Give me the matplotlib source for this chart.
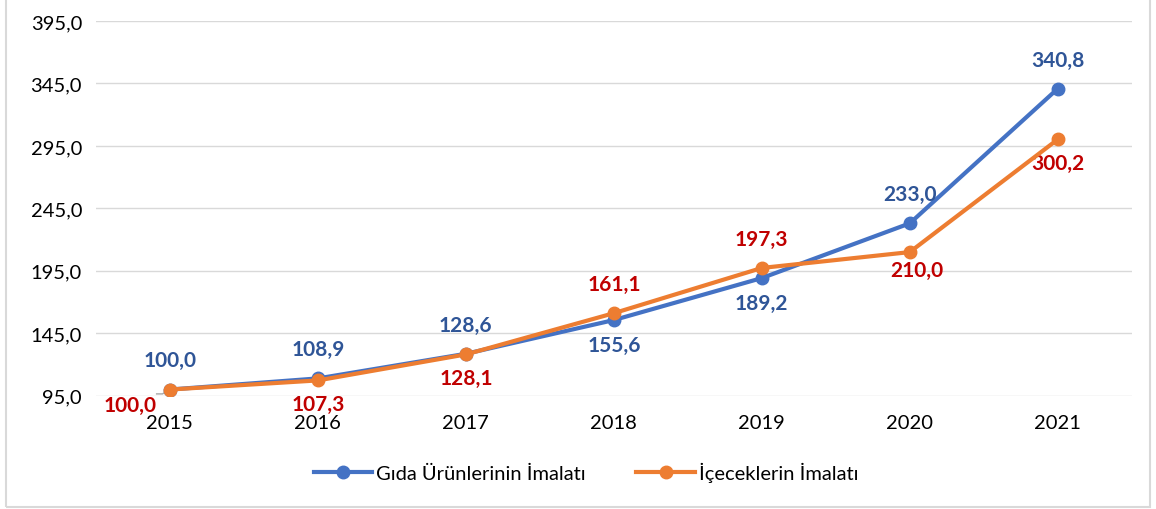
import matplotlib.pyplot as plt
import matplotlib.patches as patches

plt.rcParams['font.family'] = ['Lato', 'DejaVu Sans']

# Daten
years = ['2015', '2016', '2017', '2018', '2019', '2020', '2021']
gida = [100.0, 108.9, 128.6, 155.6, 189.2, 233.0, 340.8]
icecek = [100.0, 107.3, 128.1, 161.1, 197.3, 210.0, 300.2]
yticks = [95, 145, 195, 245, 295, 345, 395]

# Label-Versatz in Punkten (positiv = oben)
gida_off = [21, 21, 21, -18, -18, 21, 21]
icecek_off = [0, -17, -17, 21, 21, -13, -17]


def tr(v):
    return f'{v:.1f}'.replace('.', ',')


fig = plt.figure(figsize=(11.56, 5.10), dpi=100)
ax = fig.add_axes([0.083, 0.222, 0.896, 0.735])

x = list(range(len(years)))
blue = '#4472C4'
orange = '#ED7D31'
ax.plot(x, gida, color=blue, lw=3, marker='o', ms=9, label='Gıda Ürünlerinin İmalatı', zorder=3)
ax.plot(x, icecek, color=orange, lw=3, marker='o', ms=9, label='İçeceklerin İmalatı', zorder=4)

for i in x:
    ax.annotate(tr(gida[i]), (i, gida[i]), xytext=(0, gida_off[i]), textcoords='offset points',
                ha='center', va='center', color='#2F5597', fontsize=15, fontweight='bold')
    if icecek_off[i] == 0:
        # 2015 Label links mit Fuehrungslinie
        ax.annotate(tr(icecek[i]), (i, icecek[i]), xytext=(-29, -11), textcoords='offset points',
                    ha='center', va='center', color='#C00000', fontsize=15, fontweight='bold')
        ax.plot([i - 0.09, i - 0.05, i - 0.02], [96.5, 96.5, 99], color='#A6A6A6', lw=1, zorder=2)
    else:
        dx = 5 if i == 5 else 0
        ax.annotate(tr(icecek[i]), (i, icecek[i]), xytext=(dx, icecek_off[i]), textcoords='offset points',
                    ha='center', va='center', color='#C00000', fontsize=15, fontweight='bold')

ax.set_xlim(-0.5, len(years) - 0.5)
ax.set_ylim(95, 395)
ax.set_yticks(yticks)
ax.set_yticklabels([tr(v) for v in yticks], fontsize=14.5)
ax.set_xticks(x)
ax.set_xticklabels(years, fontsize=14.5)
ax.grid(axis='y', color='#D9D9D9', lw=1)
ax.set_axisbelow(True)
ax.tick_params(axis='x', length=0, pad=13)
ax.tick_params(axis='y', length=0, pad=10)
for s in ax.spines.values():
    s.set_visible(False)

fig.legend(*ax.get_legend_handles_labels(), loc='center', bbox_to_anchor=(0.507, 0.073), ncol=2,
           frameon=False, fontsize=14.5, handlelength=2.9, columnspacing=2.5, handletextpad=0.2)

# Rahmen
fig.patches.append(patches.Rectangle((0.005, 0.004), 0.99, 1.2, transform=fig.transFigure,
                                     fill=False, edgecolor='#D9D9D9', lw=1.5))

plt.savefig('out.png', dpi=100)
